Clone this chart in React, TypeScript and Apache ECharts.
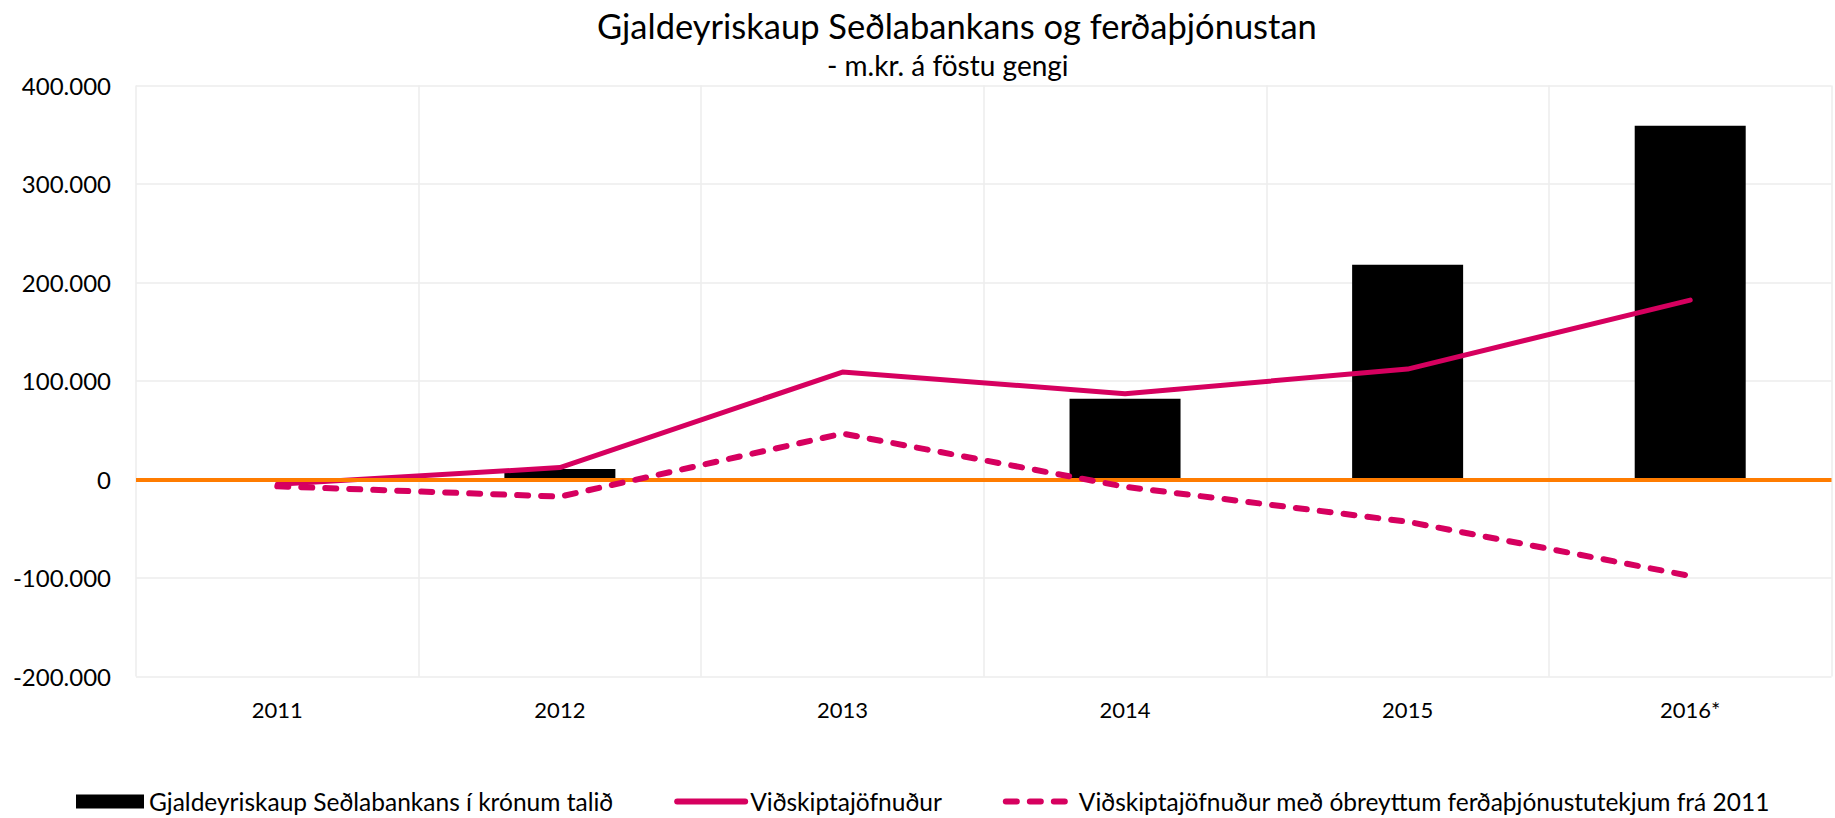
import React, { useEffect, useRef } from "react";
import * as echarts from "echarts";

const categories = ["2011", "2012", "2013", "2014", "2015", "2016*"];
const purchases = [0, 10500, 0, 82000, 218000, 359000];
const balance = [-5000, 12000, 109000, 87000, 112000, 182000];
const balanceFixedTourism = [-7000, -17500, 46500, -7500, -43000, -98000];
const yTicks = [-200000, -100000, 0, 100000, 200000, 300000, 400000];

const PINK = "#D6005F";
const ORANGE = "#FF7C00";
const FONT = "Lato, 'DejaVu Sans', sans-serif";

const fmt = (v: number) => {
  if (v === 0) return "0";
  const s = Math.abs(v).toString().replace(/\B(?=(\d{3})+(?!\d))/g, ".");
  return (v < 0 ? "-" : "") + s;
};

export default function App() {
  const ref = useRef<HTMLDivElement>(null);
  useEffect(() => {
    if (!ref.current) return;
    const chart = echarts.init(ref.current, null, { renderer: "svg" });
    chart.setOption({
      animation: false,
      backgroundColor: "#ffffff",
      title: [
        {
          text: "Gjaldeyriskaup Seðlabankans og ferðaþjónustan",
          left: 592,
          top: 3,
          textStyle: { fontFamily: FONT, fontSize: 34.5, fontWeight: "normal", color: "#000" },
        },
        {
          text: "- m.kr. á föstu gengi",
          left: 822,
          top: 46,
          textStyle: { fontFamily: FONT, fontSize: 28, fontWeight: "normal", color: "#000" },
        },
      ],
      legend: {
        top: 784,
        left: 71,
        itemGap: 61,
        itemWidth: 68,
        itemHeight: 14,
        lineStyle: { width: 6 },
        textStyle: { fontFamily: FONT, fontSize: 24.5, color: "#000" },
        data: [
          { name: "Gjaldeyriskaup Seðlabankans í krónum talið", icon: "rect" },
          { name: "Viðskiptajöfnuður", itemStyle: { opacity: 0 } },
          {
            name: "Viðskiptajöfnuður með óbreyttum ferðaþjónustutekjum frá 2011",
            itemStyle: { opacity: 0 },
          },
        ],
      },
      grid: { left: 136, right: 3.5, top: 85.4, bottom: 141.6, containLabel: false },
      xAxis: {
        type: "category",
        data: categories,
        boundaryGap: true,
        axisLine: { show: false },
        axisTick: { show: false },
        axisLabel: { fontFamily: FONT, fontSize: 22, color: "#000", margin: 22 },
        splitLine: { show: true, lineStyle: { color: "#EDEDED", width: 1.5 } },
      },
      yAxis: {
        type: "value",
        min: yTicks[0],
        max: yTicks[yTicks.length - 1],
        interval: 100000,
        axisLine: { show: false },
        axisTick: { show: false },
        axisLabel: {
          fontFamily: FONT,
          fontSize: 24,
          color: "#000",
          margin: 25,
          formatter: (v: number) => fmt(v),
        },
        splitLine: { show: true, lineStyle: { color: "#EDEDED", width: 1.5 } },
      },
      series: [
        {
          name: "Gjaldeyriskaup Seðlabankans í krónum talið",
          type: "bar",
          data: purchases,
          barWidth: 111,
          itemStyle: { color: "#000" },
          z: 2,
        },
        {
          name: "zero",
          type: "line",
          data: [],
          silent: true,
          z: 3,
          markLine: {
            silent: true,
            symbol: "none",
            label: { show: false },
            lineStyle: { color: ORANGE, width: 4, type: "solid" },
            data: [{ yAxis: 0 }],
          },
        },
        {
          name: "Viðskiptajöfnuður",
          type: "line",
          data: balance,
          showSymbol: false,
          symbol: "none",
          z: 4,
          lineStyle: { color: PINK, width: 5, cap: "round", join: "round" },
          itemStyle: { color: PINK },
        },
        {
          name: "Viðskiptajöfnuður með óbreyttum ferðaþjónustutekjum frá 2011",
          type: "line",
          data: balanceFixedTourism,
          showSymbol: false,
          symbol: "none",
          z: 5,
          lineStyle: { color: PINK, width: 6, type: [11, 13], cap: "round", join: "round" },
          itemStyle: { color: PINK },
        },
      ],
    });
    return () => chart.dispose();
  }, []);
  return (
    <div
      ref={ref}
      style={{ position: "absolute", left: 0, top: 0, width: 1835, height: 818 }}
    />
  );
}
